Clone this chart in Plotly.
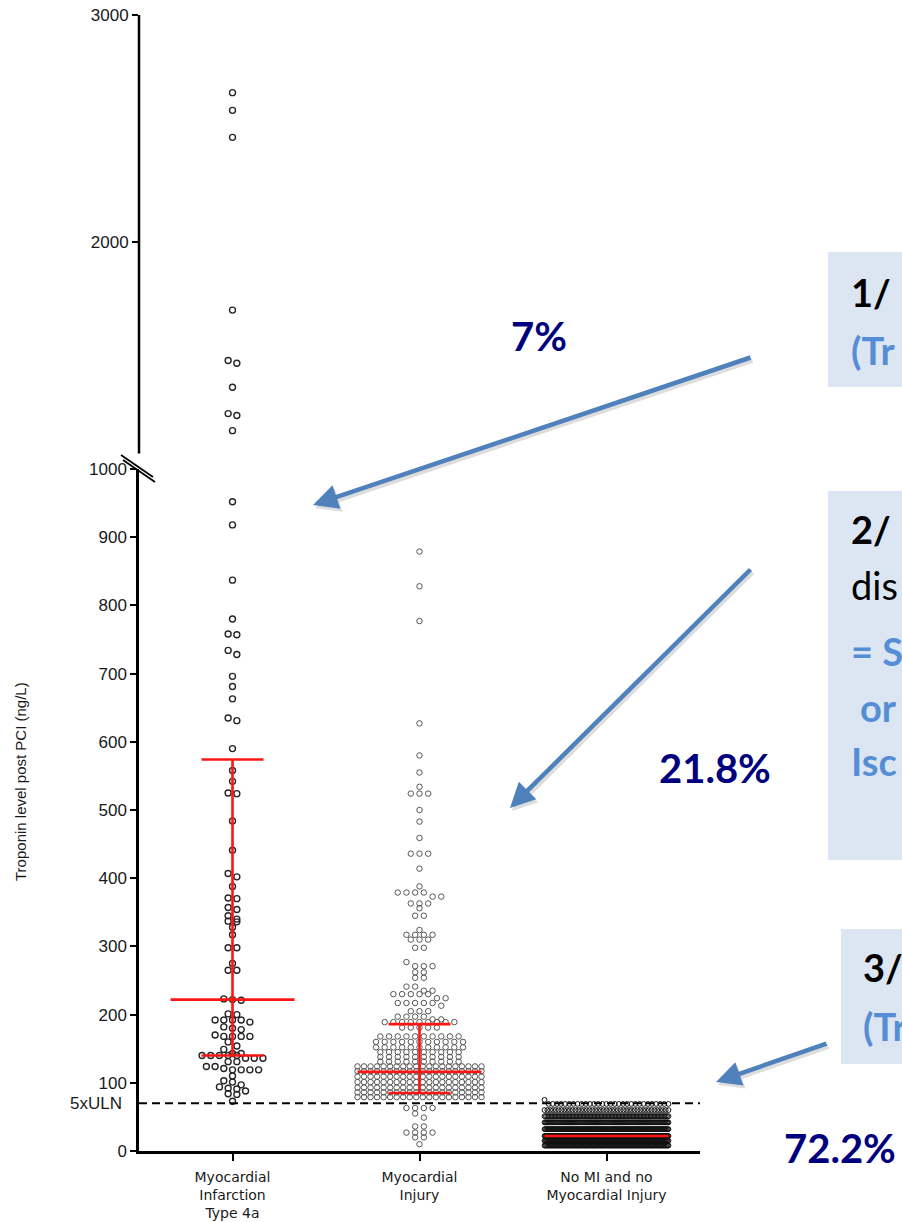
import numpy as np
import plotly.graph_objects as go

# ---------------------------------------------------------------- data
categories = ["Myocardial<br>Infarction<br>Type 4a",
              "Myocardial<br>Injury",
              "No MI and no<br>Myocardial Injury"]

# Troponin post PCI (ng/L), myocardial infarction type 4a
mi_values = [2658, 2580, 2461, 1700, 1478, 1466, 1360, 1244, 1236, 1169,
             952, 918, 837, 780, 758, 757, 734, 728, 696, 681, 663, 635, 631,
             590, 558, 542, 525, 524, 484, 441, 407, 402, 388, 371, 370, 357,
             354, 345, 340, 337, 336, 328, 317, 298, 298, 275, 265, 265, 223,
             222, 221, 201, 200, 192, 192, 192, 192, 189, 182, 180, 178, 170,
             168, 168, 168, 168, 160, 154, 149, 143, 143, 140, 140, 140, 140,
             140, 136, 136, 136, 131, 131, 124, 124, 121, 119, 119, 119, 119,
             110, 103, 101, 97, 94, 92, 91, 88, 84, 83, 73]

# Myocardial injury: troponin level and number of patients at that level
injury_levels = [879, 828, 777, 627, 580, 555, 534, 524, 500, 483, 459, 436,
                 414, 388, 379, 373, 363, 356, 345, 324, 317, 310, 298, 277,
                 271, 262, 254, 241, 235, 230, 224, 217, 213, 205, 197, 193,
                 189, 181, 168, 160, 152, 145, 138, 131, 124, 117, 109, 101,
                 93, 86, 79, 63, 55, 49, 36, 27, 20, 10]
injury_counts = [1, 1, 1, 1, 1, 1, 1, 3, 1, 1, 1, 3,
                 1, 1, 4, 2, 3, 1, 2, 1, 4, 3, 2, 1,
                 3, 2, 2, 2, 2, 5, 2, 5, 1, 3, 4, 2,
                 9, 5, 10, 11, 11, 10, 10, 10, 20, 20, 20, 20,
                 20, 20, 20, 4, 1, 1, 2, 4, 2, 1]

# No MI and no myocardial injury
nomi_levels = [75, 69, 60, 51, 42, 32, 22, 15, 8]
nomi_counts = [1, 30, 45, 90, 120, 150, 170, 160, 140]

# median and interquartile range per group (ng/L)
medians = [222, 116, 22]
q1_values = [140, 85, None]
q3_values = [574, 186, None]

uln_threshold = 70          # 5 x upper limit of normal
lower_ticks = list(range(0, 1001, 100))
upper_ticks = [2000, 3000]

# ---------------------------------------------------------------- layout geometry
W, H = 902, 1222
ML, MR, MT, MB = 139, 202, 15, 71
PW, PH = W - ML - MR, H - MT - MB
LOWER_PX = 682                      # height of the 0-1000 segment
SPLIT = LOWER_PX / PH
PX_PER_CAT = PW / 3.0

ROW_PX, STEP_PX, HALF_PX = 4.5, 8.7, 62.0


def px_lower(v):
    return np.asarray(v, float) * LOWER_PX / 1000.0


def px_upper(v):
    return (np.asarray(v, float) - 1000.0) * (PH - LOWER_PX) / 2000.0


def swarm(values, center, to_px):
    """Lay dots out in horizontal rows, centred on the category."""
    vals = np.sort(np.asarray(values, float))[::-1]
    py = to_px(vals)
    xs = np.empty_like(vals)
    i = 0
    while i < len(vals):
        j = i + 1
        while j < len(vals) and py[i] - py[j] < ROW_PX:
            j += 1
        n = j - i
        step = STEP_PX if n == 1 else min(STEP_PX, 2 * HALF_PX / (n - 1))
        xs[i:j] = center + (np.arange(n) - (n - 1) / 2.0) * step / PX_PER_CAT
        i = j
    return xs, vals


def pxx(px):
    return (px - ML) / PW


def pxy(py):
    return (MT + PH - py) / PH


fig = go.Figure()

# ---------------------------------------------------------------- dots
mi_arr = np.asarray(mi_values, float)
mi_lo, mi_hi = mi_arr[mi_arr <= 1000], mi_arr[mi_arr > 1000]

mi_marker = dict(symbol="circle-open", size=6, color="#262626",
                 line=dict(width=1.4, color="#262626"))
x, y = swarm(mi_lo, 0, px_lower)
fig.add_trace(go.Scatter(x=x, y=y, mode="markers", yaxis="y", marker=mi_marker))
x, y = swarm(mi_hi, 0, px_upper)
fig.add_trace(go.Scatter(x=x, y=y, mode="markers", yaxis="y2", marker=mi_marker))

inj = np.repeat(injury_levels, injury_counts)
x, y = swarm(inj, 1, px_lower)
fig.add_trace(go.Scatter(x=x, y=y, mode="markers",
                         marker=dict(symbol="circle-open", size=5.5, color="#555555",
                                     line=dict(width=1.0, color="#555555"))))

nomi = np.repeat(nomi_levels, nomi_counts)
x, y = swarm(nomi, 2, px_lower)
fig.add_trace(go.Scatter(x=x, y=y, mode="markers",
                         marker=dict(symbol="circle-open", size=4.8, color="#111111",
                                     line=dict(width=1.0, color="#111111"))))

# ---------------------------------------------------------------- median / IQR bars
red = dict(color="#ff1414", width=2.6)
wide = HALF_PX / PX_PER_CAT
cap = 31.0 / PX_PER_CAT
for i, (m, lo, hi) in enumerate(zip(medians, q1_values, q3_values)):
    fig.add_trace(go.Scatter(x=[i - wide, i + wide], y=[m, m], mode="lines", line=red))
    if lo is not None:
        fig.add_trace(go.Scatter(x=[i, i], y=[lo, hi], mode="lines", line=red))
        for v in (lo, hi):
            fig.add_trace(go.Scatter(x=[i - cap, i + cap], y=[v, v], mode="lines", line=red))

# ---------------------------------------------------------------- shapes
shapes = []
# 5xULN dashed reference line
shapes.append(dict(type="line", xref="paper", yref="y", x0=0, x1=1,
                   y0=uln_threshold, y1=uln_threshold,
                   line=dict(color="black", width=2, dash="8px,5px")))
# upper axis segment (above the break)
shapes.append(dict(type="line", xref="paper", yref="y2", x0=0, x1=0,
                   y0=1068, y1=3000, line=dict(color="black", width=2.5)))
# axis break marks
for (a, b, c, d) in [(121, 455, 153, 477), (123, 460, 155, 482)]:
    shapes.append(dict(type="line", xref="paper", yref="paper",
                       x0=pxx(a), y0=pxy(b), x1=pxx(c), y1=pxy(d),
                       line=dict(color="black", width=1.8)))
# note boxes
for (a, b, c, d) in [(828, 252, 905, 387), (828, 491, 905, 860), (841, 929, 905, 1064)]:
    shapes.append(dict(type="rect", xref="paper", yref="paper", layer="below",
                       x0=pxx(a), y0=pxy(d), x1=pxx(c), y1=pxy(b),
                       fillcolor="#DCE6F2", line=dict(width=0)))

# ---------------------------------------------------------------- annotations
ann = []
ann.append(dict(text="Troponin level post PCI (ng/L)", textangle=-90,
                xref="paper", yref="paper", x=pxx(20), y=pxy(782),
                xanchor="center", yanchor="middle",
                showarrow=False, font=dict(family="Liberation Sans", size=15, color="#1a1a1a")))
ann.append(dict(text="5xULN", xref="paper", yref="y", x=pxx(124), y=uln_threshold,
                xanchor="right", yanchor="middle", showarrow=False,
                font=dict(family="Liberation Sans", size=17, color="#1a1a1a")))

arrow_col = "#4F81BD"
for (hx, hy, tx, ty) in [(313, 505, 752, 357), (510, 808, 752, 568), (716, 1082, 828, 1043)]:
    ann.append(dict(text="", xref="paper", yref="paper", x=pxx(hx + 2), y=pxy(hy + 3),
                    ax=tx - hx, ay=ty - hy, showarrow=True, arrowhead=2,
                    arrowsize=1.1, arrowwidth=4.5, arrowcolor="rgba(0,0,0,0.13)"))
    ann.append(dict(text="", xref="paper", yref="paper", x=pxx(hx), y=pxy(hy),
                    ax=tx - hx, ay=ty - hy, showarrow=True, arrowhead=2,
                    arrowsize=1.1, arrowwidth=4.5, arrowcolor=arrow_col))

navy = "#00007F"
for (txt, cx, cy) in [("7%", 539, 336), ("21.8%", 715, 768), ("72.2%", 840, 1148)]:
    ann.append(dict(text="<b>%s</b>" % txt, xref="paper", yref="paper",
                    x=pxx(cx), y=pxy(cy), xanchor="center", yanchor="middle",
                    showarrow=False, font=dict(family="Lato", size=40, color=navy)))

blue = "#558ED5"
box_lines = [("<b>1/</b>", 849, 292, "black"), ("<b>(Tr</b>", 849, 350, blue),
             ("<b>2/</b>", 849, 529, "black"), ("dis", 849, 585, "black"),
             ("<b>= S</b>", 849, 651, blue), ("<b>or</b>", 858, 707, blue),
             ("<b>Isc</b>", 849, 761, blue),
             ("<b>3/</b>", 861, 967, "black"), ("<b>(Tr</b>", 861, 1026, blue)]
for (txt, lx, cy, col) in box_lines:
    ann.append(dict(text=txt, xref="paper", yref="paper", x=pxx(lx), y=pxy(cy),
                    xanchor="left", yanchor="middle", showarrow=False,
                    font=dict(family="Lato", size=38, color=col)))

tick_font = dict(family="Liberation Sans", size=17, color="#1a1a1a")

fig.update_layout(
    width=W, height=H,
    margin=dict(l=ML, r=MR, t=MT, b=MB, pad=0, autoexpand=False),
    paper_bgcolor="white", plot_bgcolor="white",
    showlegend=False,
    shapes=shapes, annotations=ann,
    xaxis=dict(range=[-0.5, 2.5], tickvals=[0, 1, 2], ticktext=categories,
               automargin=False, ticklabelstandoff=4,
               showline=True, linecolor="black", linewidth=2.5,
               ticks="outside", ticklen=7, tickwidth=2, tickcolor="black",
               showgrid=False, zeroline=False,
               tickfont=dict(family="DejaVu Sans", size=14, color="#1a1a1a")),
    yaxis=dict(domain=[0, SPLIT], range=[0, 1000], tickvals=lower_ticks,
               automargin=False,
               showline=True, linecolor="black", linewidth=2.5,
               ticks="outside", ticklen=6, tickwidth=2, tickcolor="black",
               showgrid=False, zeroline=False, tickfont=tick_font),
    yaxis2=dict(domain=[SPLIT, 1], range=[1000, 3000], tickvals=upper_ticks,
                anchor="x", showline=False, automargin=False,
                ticks="outside", ticklen=6, tickwidth=2, tickcolor="black",
                showgrid=False, zeroline=False, tickfont=tick_font),
)

fig.write_html("out.html")
